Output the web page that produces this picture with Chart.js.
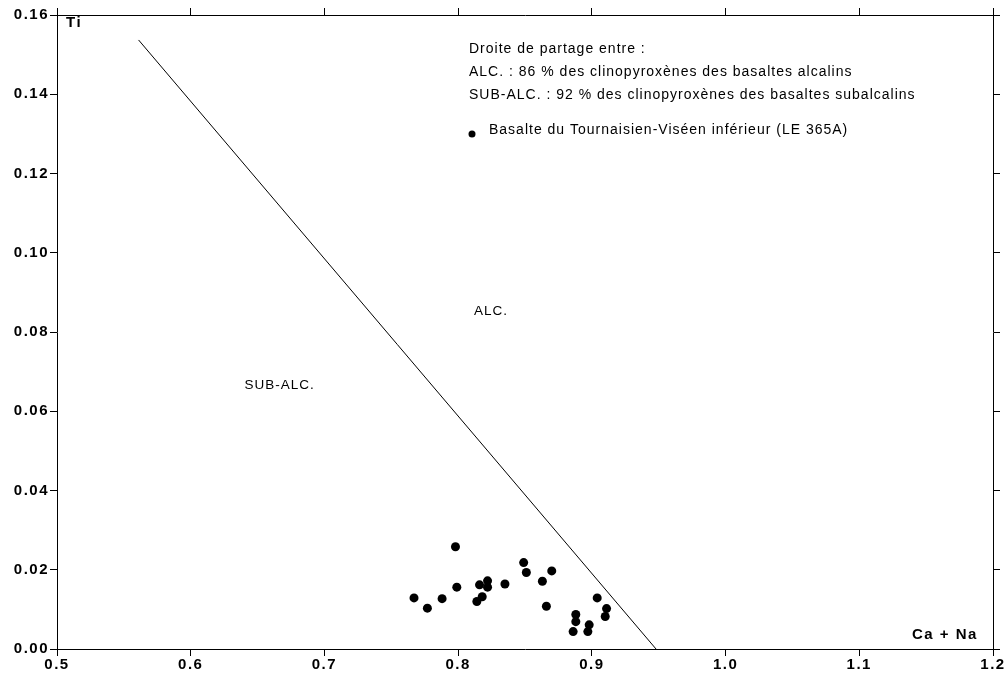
<!DOCTYPE html>
<html>
<head>
<meta charset="utf-8">
<script src="https://cdn.jsdelivr.net/npm/chart.js@4.4.1/dist/chart.umd.min.js"></script>
<style>
  html, body { margin: 0; padding: 0; background: #fff; }
  #wrap { width: 1005px; height: 675px; }
</style>
</head>
<body>
<div id="wrap"><canvas id="chart"></canvas></div>
<script>
// Ca + Na (x) et Ti (y) des clinopyroxènes
const caNa = [0.767, 0.777, 0.788, 0.798, 0.799, 0.814, 0.816, 0.818, 0.822, 0.822,
              0.835, 0.849, 0.851, 0.863, 0.866, 0.870, 0.888, 0.888, 0.886, 0.898,
              0.897, 0.904, 0.911, 0.910];
const ti   = [0.0129, 0.0103, 0.0127, 0.0258, 0.0156, 0.0120, 0.0162, 0.0132, 0.0172, 0.0156,
              0.0164, 0.0218, 0.0193, 0.0171, 0.0108, 0.0197, 0.0087, 0.0069, 0.0044, 0.0061,
              0.0044, 0.0129, 0.0102, 0.0082];

// droite de partage ALC. / SUB-ALC.
const lineX = [0.561, 0.948];
const lineY = [0.1537, 0.0];

const xMin = 0.5, xMax = 1.2, xStep = 0.1;
const yMin = 0.0, yMax = 0.16, yStep = 0.02;

const legendLines = [
  'Droite de partage entre :',
  'ALC. : 86 % des clinopyroxènes des basaltes alcalins',
  'SUB-ALC. : 92 % des clinopyroxènes des basaltes subalcalins'
];
const pointLabel = 'Basalte du Tournaisien-Viséen inférieur (LE 365A)';

const FONT = '"Liberation Sans", Arial, Helvetica, sans-serif';

const points = caNa.map((x, i) => ({ x: x, y: ti[i] }));
const divide = lineX.map((x, i) => ({ x: x, y: lineY[i] }));

// espacement des lettres pour les graduations (police "machine")
const spacingPlugin = {
  id: 'spacing',
  beforeDraw(chart) { chart.ctx.letterSpacing = '1.5px'; },
  beforeDatasetsDraw(chart) { chart.ctx.letterSpacing = '0px'; }
};

// annotations texte
const textPlugin = {
  id: 'texts',
  afterDraw(chart) {
    const ctx = chart.ctx;
    const a = chart.chartArea;
    const sx = chart.scales.x, sy = chart.scales.y;
    ctx.save();
    ctx.fillStyle = '#000';
    ctx.textBaseline = 'middle';

    ctx.letterSpacing = '1.5px';
    ctx.font = '600 15px ' + FONT;
    ctx.textAlign = 'left';
    ctx.fillText('Ti', a.left + 9, a.top + 8);
    ctx.fillText('Ca + Na', a.right - 81, a.bottom - 14);

    ctx.letterSpacing = '1px';
    ctx.font = '13.5px ' + FONT;
    ctx.textAlign = 'center';
    ctx.fillText('ALC.', sx.getPixelForValue(0.8245), sy.getPixelForValue(0.0853));
    ctx.fillText('SUB-ALC.', sx.getPixelForValue(0.6665), sy.getPixelForValue(0.0665));

    ctx.font = '14px ' + FONT;
    ctx.textAlign = 'left';
    const lx = a.left + 412;
    legendLines.forEach((t, i) => {
      ctx.fillText(t, lx, a.top + 34 + i * 23);
    });
    ctx.beginPath();
    ctx.arc(lx + 3, a.top + 119, 3.5, 0, Math.PI * 2);
    ctx.fill();
    ctx.fillText(pointLabel, lx + 20, a.top + 115);
    ctx.restore();
  }
};

function axisCommon(extra) {
  return Object.assign({
    type: 'linear',
    border: { display: true, color: '#000', width: 1 },
    grid: { drawOnChartArea: false, drawTicks: true, tickLength: 7, color: '#000', lineWidth: 1 }
  }, extra);
}

new Chart(document.getElementById('chart'), {
  type: 'scatter',
  data: {
    datasets: [{
      label: pointLabel,
      data: points,
      pointRadius: 4.5,
      pointHoverRadius: 4.5,
      backgroundColor: '#000',
      borderColor: '#000',
      borderWidth: 0
    }, {
      label: 'Droite de partage',
      data: divide,
      showLine: true,
      pointRadius: 0,
      borderColor: '#000',
      borderWidth: 1,
      fill: false
    }]
  },
  plugins: [spacingPlugin, textPlugin],
  options: {
    responsive: true,
    maintainAspectRatio: false,
    animation: false,
    layout: { padding: { top: 15, right: 12, left: 0, bottom: 0 } },
    plugins: { legend: { display: false }, tooltip: { enabled: false } },
    scales: {
      x: axisCommon({
        position: 'bottom', min: xMin, max: xMax,
        ticks: { stepSize: xStep, color: '#000', padding: 0, font: { family: FONT, size: 15, weight: 'bold' },
                 callback: v => v.toFixed(1), maxRotation: 0 },
        afterFit: s => { s.height = 26; }
      }),
      x2: axisCommon({
        position: 'top', min: xMin, max: xMax,
        ticks: { stepSize: xStep, display: false },
        afterFit: s => { s.height = 0; }
      }),
      y: axisCommon({
        position: 'left', min: yMin, max: yMax,
        ticks: { stepSize: yStep, color: '#000', padding: 1, font: { family: FONT, size: 15, weight: 'bold' },
                 callback: v => v.toFixed(2) },
        afterFit: s => { s.width = 57; }
      }),
      y2: axisCommon({
        position: 'right', min: yMin, max: yMax,
        ticks: { stepSize: yStep, display: false },
        afterFit: s => { s.width = 0; }
      })
    }
  }
});
</script>
</body>
</html>
